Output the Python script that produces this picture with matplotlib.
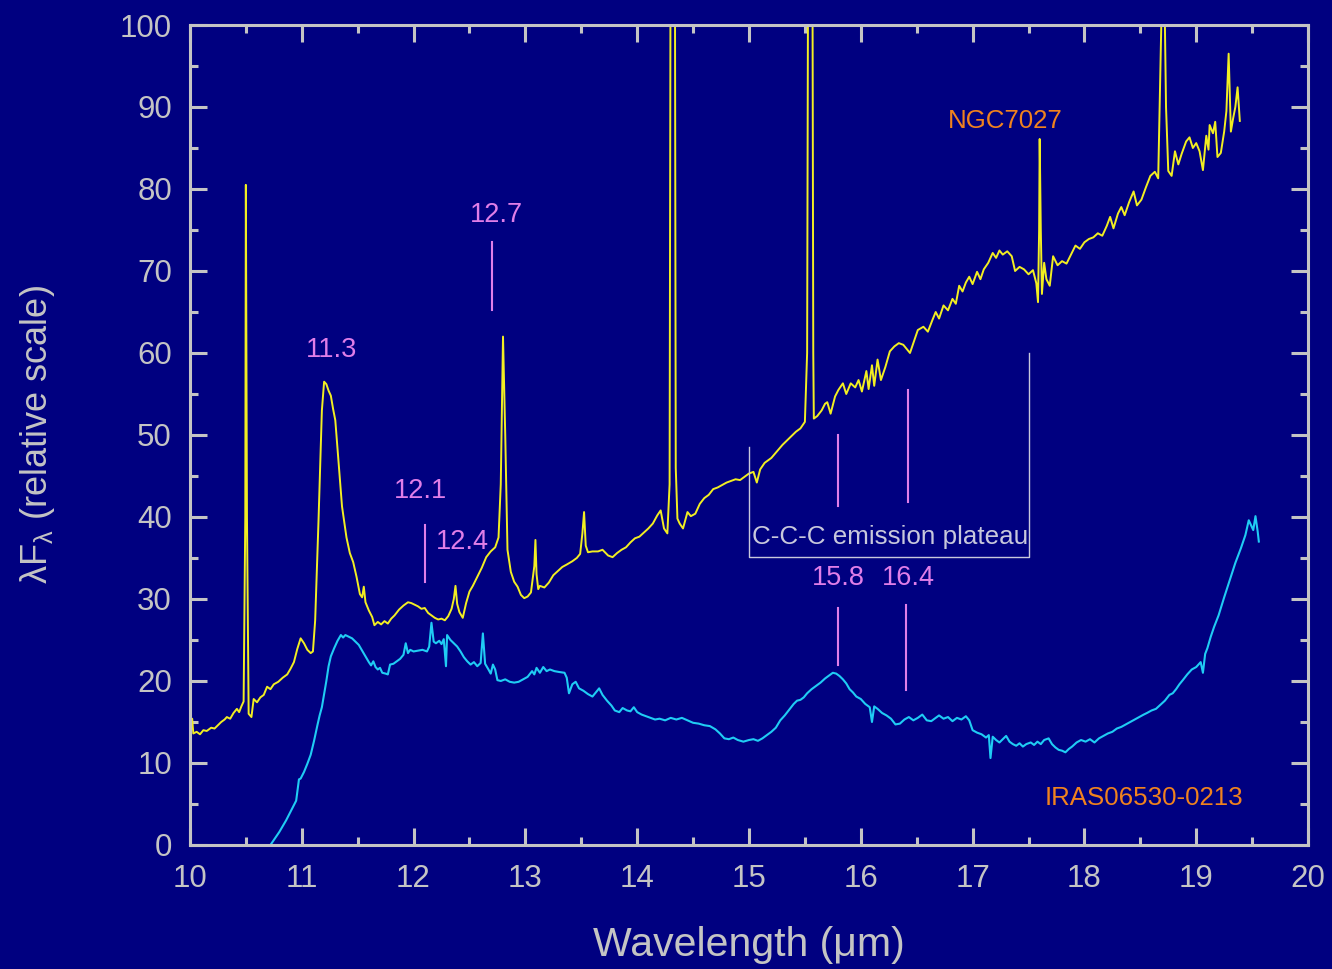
import matplotlib
matplotlib.use("Agg")
import matplotlib.pyplot as plt
from matplotlib.ticker import MultipleLocator

plt.rcParams['font.family'] = ['Liberation Sans', 'DejaVu Sans']
plt.rcParams['mathtext.fontset'] = 'custom'
plt.rcParams['mathtext.rm'] = 'Liberation Sans'
plt.rcParams['mathtext.it'] = 'Liberation Sans:italic'

# NGC7027 spectrum (wavelength in micron, lambda*F_lambda relative)
w_ngc = [10.00, 10.02, 10.03, 10.06, 10.09, 10.12, 10.15, 10.19, 10.22, 10.25,
         10.28, 10.31, 10.33, 10.36, 10.39, 10.42, 10.44, 10.46, 10.48, 10.495,
         10.50, 10.51, 10.525, 10.55, 10.57, 10.60, 10.63, 10.66, 10.69, 10.72,
         10.75, 10.79, 10.83, 10.87, 10.90, 10.93, 10.96, 10.99, 11.02, 11.05,
         11.08, 11.10, 11.12, 11.15, 11.18, 11.20, 11.22, 11.24, 11.26, 11.28,
         11.30, 11.33, 11.36, 11.38, 11.40, 11.43, 11.46, 11.49, 11.52, 11.54,
         11.555, 11.57, 11.60, 11.63, 11.65, 11.68, 11.71, 11.74, 11.77, 11.80,
         11.83, 11.87, 11.91, 11.95, 11.98, 12.01, 12.04, 12.07, 12.10, 12.13,
         12.16, 12.19, 12.22, 12.25, 12.28, 12.31, 12.34, 12.36, 12.375, 12.39,
         12.41, 12.44, 12.47, 12.50, 12.53, 12.57, 12.61, 12.65, 12.69, 12.73,
         12.76, 12.78, 12.80, 12.82, 12.84, 12.87, 12.90, 12.93, 12.96, 12.99,
         13.02, 13.05, 13.08, 13.09, 13.10, 13.115, 13.13, 13.17, 13.21, 13.25,
         13.29, 13.33, 13.37, 13.42, 13.46, 13.49, 13.51, 13.525, 13.54, 13.56,
         13.60, 13.65, 13.69, 13.74, 13.78, 13.82, 13.86, 13.90, 13.94, 13.98,
         14.02, 14.06, 14.10, 14.14, 14.18, 14.21, 14.24, 14.27, 14.29, 14.298,
         14.338, 14.345, 14.36, 14.38, 14.41, 14.45, 14.48, 14.52, 14.56, 14.60,
         14.64, 14.68, 14.72, 14.76, 14.80, 14.84, 14.88, 14.92, 14.96, 15.00,
         15.04, 15.07, 15.10, 15.14, 15.20, 15.25, 15.30, 15.36, 15.42, 15.46,
         15.50, 15.52, 15.528, 15.568, 15.575, 15.58, 15.61, 15.65, 15.68, 15.70,
         15.73, 15.77, 15.80, 15.84, 15.87, 15.91, 15.95, 15.98, 16.01, 16.05,
         16.07, 16.10, 16.12, 16.15, 16.18, 16.22, 16.26, 16.30, 16.34, 16.38,
         16.41, 16.44, 16.48, 16.51, 16.56, 16.60, 16.64, 16.67, 16.70, 16.74,
         16.78, 16.82, 16.85, 16.88, 16.91, 16.94, 16.97, 17.00, 17.04, 17.07,
         17.10, 17.14, 17.18, 17.21, 17.24, 17.27, 17.31, 17.35, 17.38, 17.42,
         17.46, 17.50, 17.54, 17.57, 17.585, 17.595, 17.60, 17.61, 17.62, 17.64,
         17.66, 17.69, 17.72, 17.76, 17.80, 17.84, 17.88, 17.92, 17.96, 18.00,
         18.04, 18.08, 18.12, 18.16, 18.20, 18.23, 18.26, 18.30, 18.33, 18.36,
         18.40, 18.44, 18.47, 18.51, 18.55, 18.59, 18.63, 18.66, 18.68, 18.695,
         18.715, 18.73, 18.75, 18.78, 18.81, 18.84, 18.87, 18.91, 18.94, 18.97,
         19.00, 19.03, 19.06, 19.09, 19.11, 19.12, 19.15, 19.17, 19.19, 19.22,
         19.25, 19.27, 19.29, 19.31, 19.33, 19.35, 19.37, 19.39]
f_ngc = [14.6, 15.4, 13.6, 13.8, 13.5, 14.0, 13.9, 14.3, 14.2, 14.6,
         15.0, 15.3, 15.6, 15.4, 16.1, 16.6, 16.2, 16.9, 17.5, 40.0,
         80.5, 40.0, 16.0, 15.6, 17.8, 17.4, 18.0, 18.3, 19.3, 19.0,
         19.6, 19.9, 20.4, 20.8, 21.5, 22.3, 23.9, 25.2, 24.6, 23.8,
         23.4, 23.6, 27.4, 39.6, 53.0, 56.5, 56.2, 55.4, 54.8, 53.2,
         51.8, 46.6, 41.3, 39.4, 37.5, 35.6, 34.5, 32.7, 30.6, 30.2,
         31.5, 29.6, 28.6, 27.8, 26.8, 27.2, 26.9, 27.3, 27.0, 27.6,
         28.0, 28.7, 29.2, 29.6, 29.5, 29.3, 29.1, 28.8, 28.9, 28.3,
         28.0, 27.7, 27.5, 27.6, 27.4, 27.9, 28.8, 30.0, 31.6, 29.4,
         28.4, 27.7, 29.5, 30.9, 31.6, 32.7, 33.8, 35.1, 35.8, 36.3,
         37.5, 44.0, 62.0, 50.0, 36.0, 33.3, 32.1, 31.5, 30.5, 30.1,
         30.3, 30.8, 34.0, 37.2, 33.0, 31.2, 31.6, 31.4, 32.0, 32.9,
         33.4, 33.9, 34.2, 34.6, 35.0, 35.5, 38.0, 40.6, 36.5, 35.7,
         35.8, 35.8, 36.0, 35.3, 35.1, 35.6, 36.0, 36.3, 36.9, 37.4,
         37.6, 38.1, 38.6, 39.2, 40.2, 40.8, 38.6, 38.0, 44.0, 105.0,
         105.0, 46.0, 39.8, 39.2, 38.6, 40.6, 40.1, 40.4, 41.6, 42.3,
         42.7, 43.4, 43.6, 43.9, 44.2, 44.4, 44.6, 44.5, 44.9, 45.3,
         45.5, 44.2, 45.8, 46.6, 47.2, 48.0, 48.8, 49.6, 50.4, 50.8,
         51.6, 60.0, 105.0, 105.0, 60.0, 52.0, 52.3, 53.0, 53.8, 54.0,
         52.6, 54.7, 55.5, 56.3, 55.0, 56.3, 55.8, 56.7, 55.3, 57.8,
         55.6, 58.5, 56.0, 59.2, 56.7, 58.3, 60.2, 60.8, 61.2, 61.0,
         60.5, 60.0, 61.6, 62.8, 63.2, 62.6, 64.0, 65.0, 64.2, 65.8,
         65.2, 66.6, 66.0, 68.2, 67.5, 68.6, 69.3, 68.4, 69.9, 69.0,
         70.2, 71.0, 72.2, 71.6, 72.5, 72.0, 72.4, 71.8, 70.0, 70.5,
         70.2, 69.6, 70.1, 68.5, 66.2, 75.0, 86.1, 75.0, 67.2, 71.0,
         69.0, 68.2, 71.8, 70.7, 71.2, 70.9, 72.0, 73.1, 72.7, 73.5,
         73.9, 74.1, 74.6, 74.3, 75.5, 76.6, 75.2, 77.0, 77.8, 76.8,
         78.4, 79.7, 78.0, 78.7, 80.2, 81.6, 82.1, 81.3, 95.0, 105.0,
         105.0, 90.0, 82.2, 81.6, 84.6, 83.0, 84.3, 85.8, 86.3, 85.0,
         85.6, 84.6, 82.3, 86.5, 84.8, 87.8, 86.8, 88.2, 83.9, 84.4,
         87.0, 89.5, 96.5, 87.0, 88.6, 90.0, 92.4, 88.3]

# IRAS06530-0213 spectrum
w_iras = [10.72, 10.76, 10.80, 10.83, 10.86, 10.89, 10.92, 10.95, 10.975, 10.99,
          11.02, 11.05, 11.08, 11.11, 11.14, 11.16, 11.18, 11.20, 11.22, 11.24,
          11.26, 11.29, 11.32, 11.35, 11.37, 11.39, 11.42, 11.45, 11.48, 11.51,
          11.54, 11.57, 11.60, 11.62, 11.64, 11.66, 11.68, 11.70, 11.72, 11.75,
          11.77, 11.79, 11.82, 11.85, 11.88, 11.91, 11.93, 11.95, 11.97, 12.00,
          12.04, 12.08, 12.12, 12.14, 12.16, 12.18, 12.20, 12.23, 12.25, 12.27,
          12.29, 12.30, 12.33, 12.36, 12.39, 12.42, 12.45, 12.48, 12.51, 12.54,
          12.57, 12.60, 12.62, 12.64, 12.67, 12.69, 12.71, 12.73, 12.75, 12.78,
          12.82, 12.86, 12.90, 12.94, 12.98, 13.02, 13.06, 13.08, 13.10, 13.13,
          13.16, 13.19, 13.22, 13.26, 13.30, 13.35, 13.37, 13.39, 13.42, 13.45,
          13.48, 13.52, 13.56, 13.60, 13.63, 13.66, 13.69, 13.73, 13.77, 13.80,
          13.84, 13.87, 13.91, 13.94, 13.97, 14.00, 14.04, 14.08, 14.12, 14.16,
          14.20, 14.25, 14.30, 14.35, 14.40, 14.45, 14.50, 14.55, 14.60, 14.65,
          14.70, 14.74, 14.78, 14.82, 14.86, 14.90, 14.95, 15.00, 15.04, 15.08,
          15.12, 15.16, 15.20, 15.24, 15.28, 15.32, 15.36, 15.40, 15.43, 15.46,
          15.49, 15.52, 15.56, 15.60, 15.64, 15.68, 15.72, 15.75, 15.78, 15.81,
          15.84, 15.87, 15.90, 15.93, 15.96, 16.00, 16.04, 16.08, 16.10, 16.12,
          16.15, 16.19, 16.23, 16.27, 16.31, 16.35, 16.39, 16.43, 16.47, 16.51,
          16.55, 16.59, 16.63, 16.67, 16.70, 16.74, 16.78, 16.82, 16.86, 16.90,
          16.94, 16.97, 17.00, 17.04, 17.08, 17.12, 17.145, 17.16, 17.18, 17.21,
          17.24, 17.27, 17.30, 17.33, 17.36, 17.39, 17.42, 17.45, 17.48, 17.52,
          17.55, 17.58, 17.61, 17.64, 17.68, 17.71, 17.74, 17.77, 17.80, 17.83,
          17.86, 17.89, 17.93, 17.97, 18.01, 18.05, 18.09, 18.13, 18.17, 18.21,
          18.25, 18.29, 18.33, 18.37, 18.41, 18.45, 18.49, 18.53, 18.56, 18.60,
          18.64, 18.68, 18.72, 18.76, 18.79, 18.82, 18.85, 18.88, 18.92, 18.96,
          19.00, 19.04, 19.06, 19.08, 19.10, 19.13, 19.16, 19.20, 19.25, 19.30,
          19.35, 19.40, 19.44, 19.47, 19.49, 19.51, 19.53, 19.55, 19.56]
f_iras = [0.0, 0.8, 1.6, 2.3, 3.0, 3.8, 4.6, 5.4, 8.0, 8.1,
          8.9, 9.9, 11.0, 12.7, 14.6, 15.8, 16.8, 18.4, 20.0, 21.8,
          23.0, 24.0, 24.9, 25.6, 25.3, 25.6, 25.4, 25.2, 24.8, 24.4,
          23.7, 23.0, 22.3, 21.9, 22.4, 21.7, 21.4, 21.6, 21.0, 20.9,
          20.8, 22.0, 22.1, 22.4, 22.7, 23.2, 24.6, 23.4, 23.8, 23.6,
          23.7, 23.8, 23.6, 24.2, 27.1, 24.8, 24.6, 24.9, 24.5, 25.1,
          21.8, 25.6, 25.0, 24.6, 24.2, 23.6, 22.9, 22.4, 22.0, 22.3,
          21.8, 22.2, 25.8, 22.1, 21.4, 20.9, 22.0, 21.4, 20.1, 20.0,
          20.2, 19.9, 19.8, 19.9, 20.2, 20.5, 21.2, 20.8, 21.6, 21.0,
          21.7, 21.2, 21.4, 21.2, 21.1, 21.0, 20.4, 18.5, 19.6, 19.9,
          19.1, 18.8, 18.4, 18.1, 18.6, 19.1, 18.3, 17.6, 17.0, 16.4,
          16.2, 16.7, 16.4, 16.3, 16.8, 16.2, 15.9, 15.7, 15.5, 15.3,
          15.4, 15.2, 15.5, 15.3, 15.5, 15.2, 14.9, 14.8, 14.6, 14.5,
          14.1, 13.6, 13.0, 12.9, 13.1, 12.8, 12.6, 12.8, 12.9, 12.7,
          13.0, 13.4, 13.8, 14.3, 15.2, 15.8, 16.5, 17.2, 17.6, 17.7,
          18.0, 18.5, 19.0, 19.4, 19.8, 20.3, 20.7, 21.0, 20.9, 20.6,
          20.2, 19.7, 19.0, 18.6, 18.1, 17.8, 17.2, 16.8, 15.0, 16.9,
          16.6, 16.1, 15.8, 15.4, 14.7, 14.8, 15.3, 15.6, 15.2, 15.5,
          15.9, 15.2, 15.1, 15.5, 15.8, 15.4, 15.6, 15.1, 15.5, 15.3,
          15.7, 15.2, 14.0, 13.7, 13.5, 13.1, 13.4, 10.6, 13.2, 12.8,
          12.5, 12.9, 13.3, 12.6, 12.3, 12.1, 12.4, 12.0, 12.3, 12.5,
          12.2, 12.6, 12.3, 12.8, 13.0, 12.3, 11.9, 11.6, 11.5, 11.3,
          11.7, 12.0, 12.5, 12.8, 12.6, 12.9, 12.5, 13.0, 13.3, 13.6,
          13.8, 14.2, 14.4, 14.7, 15.0, 15.3, 15.6, 15.9, 16.1, 16.4,
          16.6, 17.1, 17.6, 18.3, 18.5, 19.0, 19.6, 20.1, 20.8, 21.4,
          21.7, 22.3, 21.0, 23.3, 24.0, 25.4, 26.6, 28.0, 30.2, 32.3,
          34.4, 36.2, 37.8, 39.6, 39.0, 38.4, 40.1, 38.2, 37.0]

# feature labels and marker segments (x, y0, y1)
feat_text = ['11.3', '12.1', '12.4', '12.7', '15.8', '16.4']
feat_x = [11.27, 12.06, 12.44, 12.74, 15.80, 16.43]
feat_y = [60.4, 43.2, 37.0, 76.8, 32.5, 32.5]
mark_x = [12.10, 12.70, 15.80, 15.80, 16.42, 16.40]
mark_y0 = [32.1, 65.2, 41.3, 22.0, 41.8, 18.9]
mark_y1 = [39.0, 73.5, 50.0, 28.9, 55.5, 29.3]

# plateau bracket corners
plat_x = [15.0, 15.0, 17.5, 17.5]
plat_y = [48.5, 35.1, 35.1, 60.0]

bg = '#000080'
fg = '#c4c4c4'
pink = '#e07ee8'
orange = '#f0821e'
label_grey = '#c8c8dc'

fig = plt.figure(figsize=(13.32, 9.69), dpi=100, facecolor=bg)
ax = fig.add_axes([0.1426, 0.1280, 0.8394, 0.8462], facecolor=bg)

ax.plot(w_iras, f_iras, color='#20ccf4', lw=1.5)
ax.plot(w_ngc, f_ngc, color='#f2ee22', lw=1.4)

for t, x, y in zip(feat_text, feat_x, feat_y):
    ax.text(x, y, t, color=pink, fontsize=19.5, ha='center', va='center')
for x, y0, y1 in zip(mark_x, mark_y0, mark_y1):
    ax.plot([x, x], [y0, y1], color=pink, lw=1.5)

ax.plot(plat_x, plat_y, color=label_grey, lw=1.0)
ax.text(16.26, 37.6, 'C-C-C emission plateau', color=label_grey, fontsize=18.7,
        ha='center', va='center')

ax.text(17.29, 88.3, 'NGC7027', color=orange, fontsize=18.6, ha='center', va='center')
ax.text(18.53, 5.7, 'IRAS06530-0213', color=orange, fontsize=18.6, ha='center', va='center')

ax.set_xlim(10, 20)
ax.set_ylim(0, 100)
ax.xaxis.set_major_locator(MultipleLocator(1))
ax.xaxis.set_minor_locator(MultipleLocator(0.5))
ax.yaxis.set_major_locator(MultipleLocator(10))
ax.yaxis.set_minor_locator(MultipleLocator(5))

for s in ax.spines.values():
    s.set_color(fg)
    s.set_linewidth(2.2)
ax.tick_params(which='both', direction='in', top=True, right=True, color=fg,
               width=2.2, labelcolor=fg, labelsize=22.5)
ax.tick_params(which='major', length=12)
ax.tick_params(which='minor', length=6)
ax.tick_params(axis='x', pad=14)
ax.tick_params(axis='y', pad=13)

ax.set_xlabel('Wavelength (μm)', color=fg, fontsize=29.5, labelpad=23)
ax.set_ylabel('λF$_{\\mathrm{λ}}$ (relative scale)', color=fg, fontsize=26, labelpad=45)

fig.savefig('out.png', dpi=100, facecolor=bg)
